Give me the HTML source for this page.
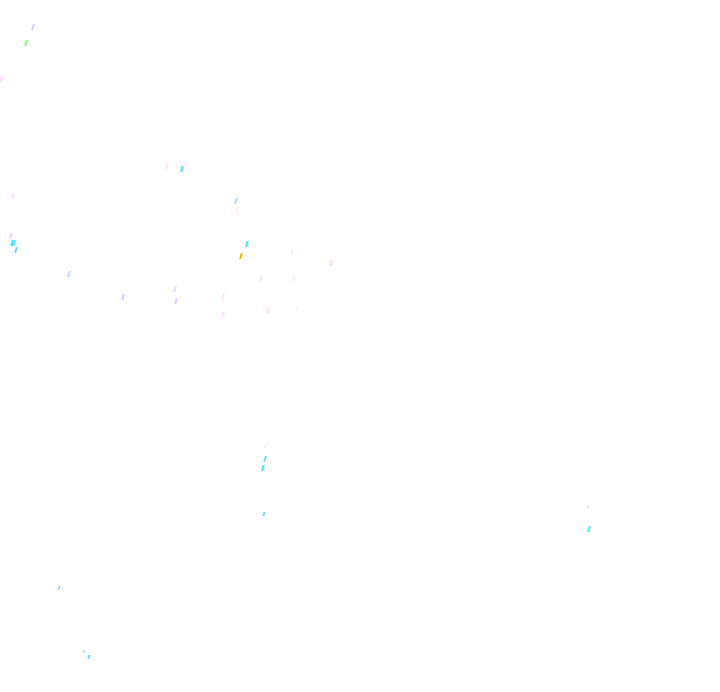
<!DOCTYPE html>
<html><head><meta charset="utf-8"><style>
html,body{margin:0;padding:0;background:#fff;width:720px;height:692px;overflow:hidden;position:relative}
i{position:absolute;width:2px;height:6px;transform:skewX(-15deg)}
</style></head><body>
<i style="left:32px;top:24px;background:#d8d0ff"></i>
<i style="left:25px;top:40px;background:#80ff70"></i>
<i style="left:0px;top:76px;background:#ffd8ff"></i>
<i style="left:166px;top:163px;background:#fde8ff"></i>
<i style="left:181px;top:166px;background:#40e8ff"></i>
<i style="left:12px;top:193px;background:#fde0ff"></i>
<i style="left:235px;top:198px;background:#a8d8ff"></i>
<i style="left:236px;top:207px;background:#fde8ff"></i>
<i style="left:10px;top:233px;background:#f8d0ff"></i>
<i style="left:11px;top:240px;background:#40e8ff;width:4px"></i>
<i style="left:15px;top:247px;background:#70d8ff"></i>
<i style="left:246px;top:241px;background:#40e8ff"></i>
<i style="left:240px;top:253px;background:#ffb000"></i>
<i style="left:291px;top:249px;background:#fde8ff"></i>
<i style="left:330px;top:260px;background:#f8d8ff"></i>
<i style="left:68px;top:271px;background:#b8d8ff"></i>
<i style="left:260px;top:276px;background:#f8e0ff"></i>
<i style="left:293px;top:275px;background:#fde8ff"></i>
<i style="left:122px;top:294px;background:#d0c8ff"></i>
<i style="left:174px;top:286px;background:#f0d8ff"></i>
<i style="left:175px;top:298px;background:#e0c8ff"></i>
<i style="left:222px;top:294px;background:#fde0ff"></i>
<i style="left:222px;top:312px;background:#fde0ff"></i>
<i style="left:267px;top:307px;background:#fde0ff"></i>
<i style="left:296px;top:306px;background:#fdf0ff"></i>
<i style="left:265px;top:442px;background:#fde8ff"></i>
<i style="left:264px;top:456px;background:#70d8ff"></i>
<i style="left:262px;top:465px;background:#40e8ff"></i>
<i style="left:263px;top:512px;background:#70d8ff;height:4px"></i>
<i style="left:587px;top:505px;background:#fde8ff;height:4px"></i>
<i style="left:588px;top:526px;background:#40e8ff"></i>
<i style="left:58px;top:586px;background:#b8d0ff;height:4px"></i>
<i style="left:83px;top:650px;background:#c0d8ff;height:3px"></i>
<i style="left:88px;top:655px;background:#70d8ff;height:4px"></i>
</body></html>
